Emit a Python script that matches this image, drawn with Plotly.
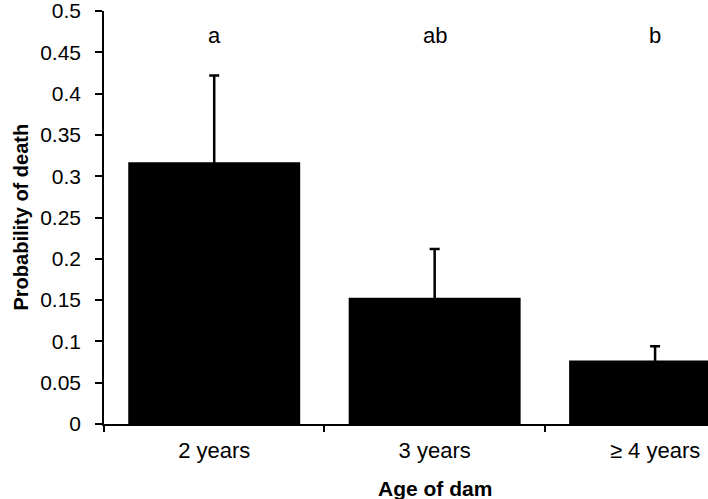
import plotly.graph_objects as go

# Data
age_groups = ['2 years', '3 years', '≥ 4 years']
prob_death = [0.317, 0.153, 0.077]
se_upper = [0.105, 0.059, 0.017]
sig_letters = ['a', 'ab', 'b']

FONT = 'Liberation Sans, Arial, sans-serif'

fig = go.Figure()

# lower half of the error bar falls inside the black bar, so only the upper part shows
fig.add_trace(go.Bar(
    x=age_groups,
    y=prob_death,
    marker=dict(color='black', line=dict(width=0)),
    error_y=dict(
        type='data',
        array=se_upper,
        color='black',
        thickness=2.5,
        width=5
    ),
    showlegend=False
))

# Significance letters above each group
for grp, letter in zip(age_groups, sig_letters):
    fig.add_annotation(
        x=grp, y=0.47, text=letter, showarrow=False,
        font=dict(family=FONT, size=22, color='black'),
        xanchor='center', yanchor='middle'
    )

# X-axis title centred on the middle category, as in the original
fig.add_annotation(
    x=age_groups[1], y=0, yref='paper', yshift=-64,
    text='<b>Age of dam</b>', showarrow=False,
    font=dict(family=FONT, size=21, color='black'),
    xanchor='center', yanchor='middle'
)

# Y-axis title
fig.add_annotation(
    x=0, xref='paper', xshift=-84, y=0.5, yref='paper',
    text='<b>Probability of death</b>', showarrow=False, textangle=-90,
    font=dict(family=FONT, size=20, color='black'),
    xanchor='center', yanchor='middle'
)

fig.update_layout(
    width=708,
    height=499,
    margin=dict(l=104, r=0, t=11, b=75),
    paper_bgcolor='white',
    plot_bgcolor='white',
    bargap=0.22,
    font=dict(family=FONT, size=18, color='black'),
)

fig.update_xaxes(
    range=[-0.5, 2.24],
    showline=True, linecolor='black', linewidth=1.5,
    ticks='outside', tickson='boundaries', ticklen=6, tickwidth=1.5, tickcolor='black',
    showgrid=False, zeroline=False,
    tickfont=dict(family=FONT, size=22, color='black'),
    ticklabelstandoff=6,
    ticklabeloverflow='allow',
)

fig.update_yaxes(
    range=[0, 0.5001], tickvals=[i * 0.05 for i in range(11)],
    ticktext=['0', '0.05', '0.1', '0.15', '0.2', '0.25', '0.3', '0.35', '0.4', '0.45', '0.5'],
    showline=True, linecolor='black', linewidth=1.5,
    ticks='outside', ticklen=7, tickwidth=1.5, tickcolor='black',
    showgrid=False, zeroline=False,
    tickfont=dict(family=FONT, size=21, color='black'),
    ticklabelstandoff=10,
    ticklabeloverflow='allow',
)

fig.write_html("out.html", config={'displayModeBar': False},
               post_script="document.body.style.margin='0';")
